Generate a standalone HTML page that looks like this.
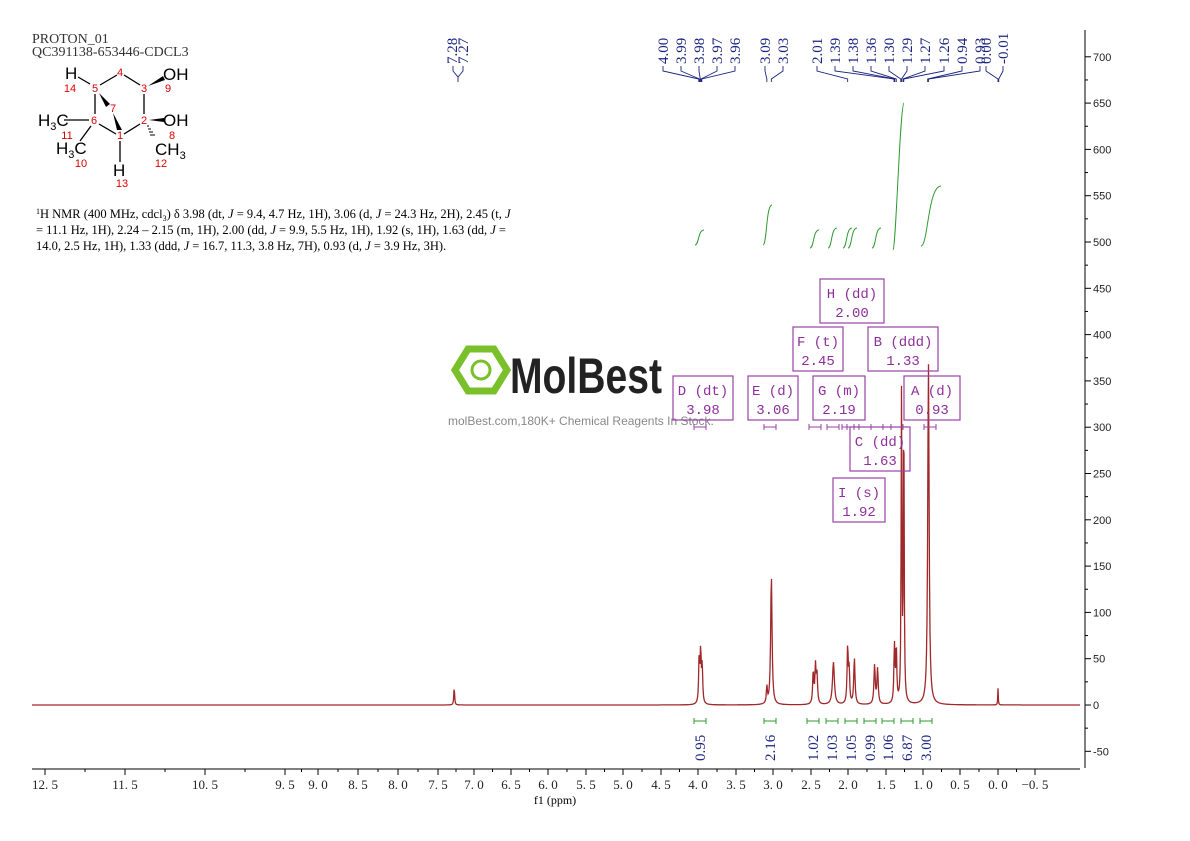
<!DOCTYPE html>
<html><head><meta charset="utf-8"><style>
body{margin:0;background:#fff;width:1190px;height:841px;overflow:hidden;font-family:"Liberation Serif",serif}
svg{position:absolute;left:0;top:0}
.mono{font-family:"Liberation Mono",monospace}
</style></head><body>
<svg id="s" width="1190" height="841" xmlns="http://www.w3.org/2000/svg">
<text x="32" y="43" font-size="14" fill="#333" font-family="Liberation Serif,serif">PROTON_01</text>
<text x="32" y="56" font-size="14" fill="#333" font-family="Liberation Serif,serif">QC391138-653446-CDCL3</text>
<!-- structure -->
<g stroke="#000" stroke-width="1.3" fill="none">
<line x1="78" y1="77" x2="90" y2="84"/><line x1="100" y1="85" x2="117" y2="75"/><line x1="124" y1="75" x2="140" y2="85"/>
<line x1="144" y1="94" x2="144" y2="114"/><line x1="95" y1="94" x2="95" y2="114"/>
<line x1="64" y1="120" x2="89" y2="120"/><line x1="99" y1="124" x2="116" y2="134"/><line x1="124" y1="134" x2="140" y2="124"/>
<line x1="91" y1="126" x2="80" y2="141"/><line x1="120" y1="141" x2="120" y2="162"/>
</g>
<polygon points="99,93 110,104 106,107" fill="#000"/><polygon points="113,113 117,130 122,130" fill="#000"/>
<polygon points="148,86 163,76 165,80" fill="#000"/><polygon points="149,120 164,118 164,122" fill="#000"/>
<g stroke="#000" stroke-width="1"><line x1="147" y1="126" x2="149" y2="126"/><line x1="148" y1="129" x2="151" y2="129"/><line x1="149" y1="132" x2="153" y2="132"/><line x1="150" y1="135" x2="155" y2="135"/></g>
<g font-family="Liberation Sans,sans-serif" font-size="17" fill="#000">
<text x="65" y="79">H</text><text x="163" y="80">OH</text><text x="163" y="126">OH</text>
<text x="38" y="126">H<tspan font-size="11" dy="4">3</tspan><tspan dy="-4">C</tspan></text>
<text x="56" y="154">H<tspan font-size="11" dy="4">3</tspan><tspan dy="-4">C</tspan></text>
<text x="155" y="155">CH<tspan font-size="11" dy="4">3</tspan></text>
<text x="113" y="176">H</text>
</g>
<g font-family="Liberation Sans,sans-serif" font-size="11" fill="#d00" text-anchor="middle">
<text x="120" y="76">4</text><text x="95" y="92">5</text><text x="144" y="92">3</text><text x="113" y="112">7</text>
<text x="94" y="124">6</text><text x="144" y="124">2</text><text x="120" y="139">1</text>
<text x="70" y="92">14</text><text x="168" y="92">9</text><text x="172" y="139">8</text>
<text x="67" y="139">11</text><text x="81" y="167">10</text><text x="161" y="167">12</text><text x="122" y="187">13</text>
</g>
<g font-size="12.5" fill="#000">
<text x="36" y="218"><tspan font-size="8" dy="-4">1</tspan><tspan dy="4">H NMR (400 MHz, cdcl</tspan><tspan font-size="8" dy="3">3</tspan><tspan dy="-3">) δ 3.98 (dt, <tspan font-style="italic">J</tspan> = 9.4, 4.7 Hz, 1H), 3.06 (d, <tspan font-style="italic">J</tspan> = 24.3 Hz, 2H), 2.45 (t, <tspan font-style="italic">J</tspan></tspan></text>
<text x="36" y="234">= 11.1 Hz, 1H), 2.24 – 2.15 (m, 1H), 2.00 (dd, <tspan font-style="italic">J</tspan> = 9.9, 5.5 Hz, 1H), 1.92 (s, 1H), 1.63 (dd, <tspan font-style="italic">J</tspan> =</text>
<text x="36" y="250">14.0, 2.5 Hz, 1H), 1.33 (ddd, <tspan font-style="italic">J</tspan> = 16.7, 11.3, 3.8 Hz, 7H), 0.93 (d, <tspan font-style="italic">J</tspan> = 3.9 Hz, 3H).</text>
</g>
<!-- watermark -->
<g>
<polygon points="468,349 494,349 507,370 494,391 468,391 455,370" fill="none" stroke="#7ac02a" stroke-width="7"/>
<circle cx="481" cy="370" r="9" fill="none" stroke="#7ac02a" stroke-width="3"/>
<text x="510" y="393" font-family="Liberation Sans,sans-serif" font-size="50" font-weight="bold" fill="#222" textLength="152" lengthAdjust="spacingAndGlyphs">MolBest</text>
<text x="448" y="425" font-family="Liberation Sans,sans-serif" font-size="12" fill="#888">molBest.com,180K+ Chemical Reagents In Stock.</text>
</g>
<g id="g"></g>
</svg>
<script>
const S=document.getElementById('g');let h='';
const X=p=>998-p*74.8, Y=v=>705-v*0.926;
h+='<line x1="32" y1="769" x2="1080" y2="769" stroke="#000"/>';
const xl=[[12.5,45],[11.5,125],[10.5,205],[9.5,285],[9,318],[8.5,358],[8,398],[7.5,438],[7,474],[6.5,511],[6,548],[5.5,586],[5,623],[4.5,661],[4,698],[3.5,736],[3,773],[2.5,811],[2,848],[1.5,886],[1,923],[0.5,960],[0,998],[-0.5,1035]];
for(const [p,x] of xl){h+=`<line x1="${x}" y1="769" x2="${x}" y2="775" stroke="#000"/><text x="${x}" y="789" font-size="13" text-anchor="middle" fill="#222">${p<0?'−0. 5':p.toFixed(1).replace('.', '. ')}</text>`;}
for(let i=0;i<xl.length-1;i++){const m=(xl[i][1]+xl[i+1][1])/2;h+=`<line x1="${m}" y1="769" x2="${m}" y2="772" stroke="#000"/>`;}
h+='<text x="555" y="804" font-size="12" text-anchor="middle">f1 (ppm)</text>';
h+='<line x1="1085" y1="30" x2="1085" y2="768" stroke="#000"/>';
for(let v=-50;v<=700;v+=50){const y=Y(v);h+=`<line x1="1085" y1="${y}" x2="1091" y2="${y}" stroke="#000"/><text x="1093" y="${y+4}" font-size="11" font-family="Liberation Sans,sans-serif" fill="#222">${v===0?'0':v}</text>`;if(v<700){h+=`<line x1="1085" y1="${Y(v+25)}" x2="1088" y2="${Y(v+25)}" stroke="#000"/>`;}}
const pk=[[7.27,20,.006],[3.995,50,.008],[3.975,55,.008],[3.955,40,.008],[3.09,18,.008],[3.03,140,.011],[2.47,35,.009],[2.44,40,.009],[2.42,30,.009],[2.20,46,.015],[2.01,62,.009],[1.99,35,.008],[1.92,50,.01],[1.65,42,.01],[1.61,38,.01],[1.385,62,.008],[1.36,60,.008],[1.29,330,.006],[1.26,340,.006],[0.93,370,.011],[0,18,.004]];
let d='';for(let x=32;x<=1080;x+=0.5){const p=(998-x)/74.8;let v=0;for(const[c,a,w]of pk){const t=(p-c)/w;v+=a/(1+t*t);}v=Math.min(v,390);d+=(x===32?'M':'L')+x+','+Y(v).toFixed(1);}
h+=`<path d="${d}" fill="none" stroke="#a0282a" stroke-width="1.3"/>`;
const lab=[[4.00,663],[3.99,681],[3.98,699],[3.97,717],[3.96,735],[3.09,765],[3.03,783],[2.01,817],[1.39,835],[1.38,853],[1.36,871],[1.30,889],[1.29,907],[1.27,925],[1.26,944],[0.94,962],[0.93,980],[0.00,986],[-0.01,1003]];
for(const[p,x] of lab){const tx=X(p);h+=`<text transform="translate(${x+5},64) rotate(-90)" font-size="15" fill="#1a237e">${p<0?'-0.01':p.toFixed(2)}</text><polyline points="${x},66 ${x},71 ${tx},79 ${tx},82" fill="none" stroke="#1a237e" stroke-width=".9"/>`;}
h+=`<text transform="translate(457,64) rotate(-90)" font-size="15" fill="#1a237e">7.28</text><text transform="translate(468,64) rotate(-90)" font-size="15" fill="#1a237e">7.27</text><polyline points="453,66 453,71 458,77 463,71 463,66" fill="none" stroke="#1a237e" stroke-width=".9"/><line x1="458" y1="77" x2="458" y2="82" stroke="#1a237e" stroke-width=".9"/>`;
const ig=[[700,230,245,0.95],[768,205,245,2.16],[815,230,248,1.02],[833,228,248,1.03],[848,228,248,1.05],[853,228,248,0.99],[877,228,248,1.06],[null,0,0,6.87],[null,0,0,3.00]];
const nums=[700,770,813,832,851,870,888,907,926];
ig.forEach(([x,top,bot,n],i)=>{if(x!==null){const x0=x-5;h+=`<path d="M${x0},${bot} C${x0+4},${bot} ${x0+3},${top} ${x0+9},${top}" fill="none" stroke="#2e9a2e" stroke-width="1"/>`;}
const nx=nums[i];h+=`<line x1="${nx-6}" y1="721" x2="${nx+6}" y2="721" stroke="#2e9a2e"/><line x1="${nx-6}" y1="718" x2="${nx-6}" y2="724" stroke="#2e9a2e"/><line x1="${nx+6}" y1="718" x2="${nx+6}" y2="724" stroke="#2e9a2e"/><text transform="translate(${nx+5},761) rotate(-90)" font-size="15" fill="#1a237e">${n.toFixed(2)}</text>`;});
h+='<path d="M893,250 C896,248 900,104 904,103" fill="none" stroke="#2e9a2e"/><path d="M921,246 C928,246 928,186 941,186" fill="none" stroke="#2e9a2e"/>';
const bx=[['H (dd)','2.00',820,279,64],['F (t)','2.45',793,327,50],['B (ddd)','1.33',868,327,70],['D (dt)','3.98',673,376,60],['E (d)','3.06',748,376,50],['G (m)','2.19',813,376,52],['A (d)','0.93',904,376,56],['C (dd)','1.63',850,427,60],['I (s)','1.92',833,478,52]];
for(const[a,b,x,y,w] of bx){h+=`<rect x="${x}" y="${y}" width="${w}" height="44" fill="none" stroke="#9b3fa6" stroke-width="1.2"/><text x="${x+w/2}" y="${y+19}" class="mono" font-size="14" fill="#8e2f9a" text-anchor="middle">${a}</text><text x="${x+w/2}" y="${y+38}" class="mono" font-size="14" fill="#8e2f9a" text-anchor="middle">${b}</text>`;}
const br=[[700,427],[770,427],[815,427],[833,427],[848,427],[853,427],[877,427],[897,427],[930,427]];
for(const[x,y] of br){h+=`<line x1="${x-6}" y1="${y}" x2="${x+6}" y2="${y}" stroke="#9b3fa6"/><line x1="${x-6}" y1="${y-3}" x2="${x-6}" y2="${y+3}" stroke="#9b3fa6"/><line x1="${x+6}" y1="${y-3}" x2="${x+6}" y2="${y+3}" stroke="#9b3fa6"/>`;}
S.innerHTML=h;
</script>
</body></html>
